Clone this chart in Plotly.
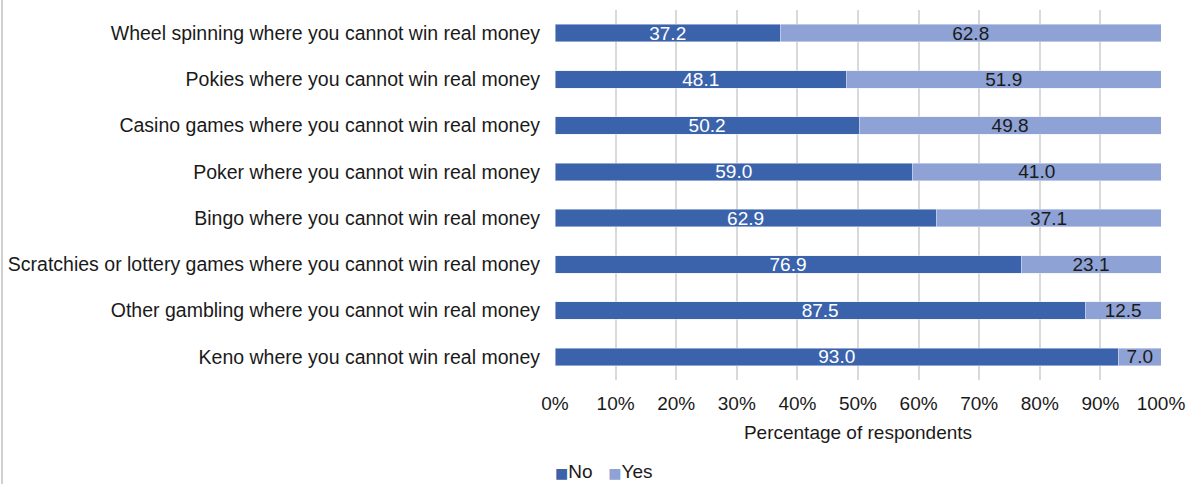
import plotly.graph_objects as go

categories = [
    "Wheel spinning where you cannot win real money",
    "Pokies where you cannot win real money",
    "Casino games where you cannot win real money",
    "Poker where you cannot win real money",
    "Bingo where you cannot win real money",
    "Scratchies or lottery games where you cannot win real money",
    "Other gambling where you cannot win real money",
    "Keno where you cannot win real money",
]
no_values = [37.2, 48.1, 50.2, 59.0, 62.9, 76.9, 87.5, 93.0]
yes_values = [62.8, 51.9, 49.8, 41.0, 37.1, 23.1, 12.5, 7.0]
series_names = ["No", "Yes"]
series_colors = ["#3B63AC", "#8EA2D5"]
tick_vals = [0, 10, 20, 30, 40, 50, 60, 70, 80, 90, 100]
tick_text = [f"{v}%" for v in tick_vals]

font = "Liberation Sans, Arial, sans-serif"
FS = 19

W, H = 1197, 484
L, R, T, B = 555, 36, 10, 104
PW, PH = W - L - R, H - T - B

fig = go.Figure()
fig.add_trace(go.Bar(
    y=categories, x=no_values, name=series_names[0], orientation="h",
    marker=dict(color=series_colors[0]),
    text=[f"{v:.1f}" for v in no_values], textposition="inside", constraintext="none",
    insidetextanchor="middle", textfont=dict(color="white", size=FS, family=font),
))
fig.add_trace(go.Bar(
    y=categories, x=yes_values, name=series_names[1], orientation="h",
    marker=dict(color=series_colors[1]),
    text=[f"{v:.1f}" for v in yes_values], textposition="inside", constraintext="none",
    insidetextanchor="middle", textfont=dict(color="#1a1a1a", size=FS, family=font),
))

legend_text = "&nbsp;&nbsp;&nbsp;".join(
    f"<span style='color:{c};font-size:14px;font-family:DejaVu Sans'>■</span>{n}"
    for n, c in zip(series_names, series_colors)
)

fig.update_layout(
    barmode="stack",
    bargap=0.62,
    width=W, height=H,
    showlegend=False,
    margin=dict(l=L, r=R, t=T, b=B, autoexpand=False),
    paper_bgcolor="white", plot_bgcolor="white",
    font=dict(family=font, size=FS, color="#1a1a1a"),
    xaxis=dict(
        range=[0, 100], tickvals=tick_vals, ticktext=tick_text,
        showgrid=True, gridcolor="#D9D9D9", gridwidth=2,
        zeroline=False, showline=False, ticklabelstandoff=10,
        title=dict(text="Percentage of respondents", standoff=12, font=dict(size=FS)),
        tickfont=dict(size=FS),
    ),
    yaxis=dict(
        autorange="reversed", showgrid=False, zeroline=False,
        ticks="", ticklabelstandoff=14, tickfont=dict(size=19.5),
    ),
    annotations=[dict(
        text=legend_text, xref="paper", yref="paper", x=-2 / PW, xanchor="left",
        y=-(471 - 380) / PH, yanchor="middle", showarrow=False, font=dict(size=FS),
    )],
    shapes=[dict(type="line", xref="paper", yref="paper", x0=-(L - 2) / PW, x1=-(L - 2) / PW,
                 y0=-B / PH, y1=1 + T / PH, line=dict(color="#D0D0D0", width=2))],
)

fig.write_html("out.html", config={"displayModeBar": False},
               post_script="document.body.style.margin='0';")
